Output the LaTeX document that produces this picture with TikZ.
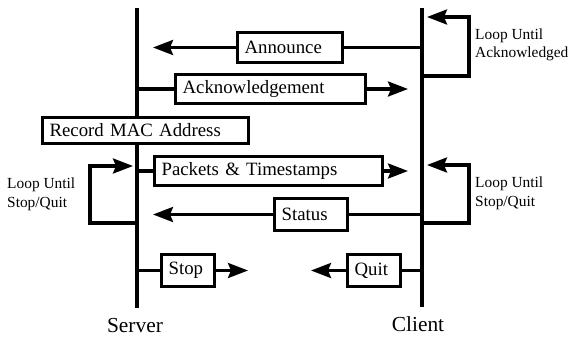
\documentclass[tikz,border=0pt]{standalone}
\usepackage{fontspec}
\setmainfont{Liberation Serif}
\usetikzlibrary{arrows.meta}
\tikzset{
  lw/.style={line width=3.2pt},
  msgbox/.style={lw, draw, fill=white, align=left, inner xsep=7pt, inner ysep=0pt,
    font=\fontsize{18.8}{20}\selectfont},
  arr/.style={lw, -{Stealth[length=20pt,width=15pt,inset=3pt]}},
  looplabel/.style={anchor=north west, inner sep=0pt, align=left,
    font=\fontsize{15.4}{18.5}\selectfont},
  endlabel/.style={anchor=base, inner sep=0pt, font=\fontsize{21.4}{24}\selectfont}
}
\begin{document}
\begin{tikzpicture}[x=1pt,y=-1pt]
\useasboundingbox (0,0) rectangle (570,338);
% lifelines
\coordinate (stop) at (137,8);
\coordinate (sbot) at (137,308);
\coordinate (ctop) at (422,8);
\coordinate (cbot) at (422,307);
\draw[lw] (stop) -- (sbot);
\draw[lw] (ctop) -- (cbot);
% end labels
\node[endlabel] (server) at (135,332) {Server};
\node[endlabel] (client) at (418,331) {Client};
% boxes
\node[msgbox, text width=90.8pt, minimum height=29.8pt] (ann) at (290,47.5) {Announce};
\node[msgbox, text width=175.8pt, minimum height=28.8pt] (ack) at (270.5,89) {Acknowledgement};
\node[msgbox, text width=191.8pt, minimum height=25.8pt] (rec) at (145.5,130.5) {Record MAC Address};
\node[msgbox, text width=213.8pt, minimum height=28.8pt] (pk) at (268.5,171) {Packets \& Timestamps};
\node[msgbox, text width=58.8pt, minimum height=31.8pt] (st) at (311,214.5) {Status};
\node[msgbox, text width=38.8pt, minimum height=31.8pt] (sp) at (188,270.5) {Stop};
\node[msgbox, text width=38.8pt, minimum height=31.8pt] (qt) at (374,270.5) {Quit};
% arrow end points
\coordinate (annT) at (153,47.5);
\coordinate (ackT) at (408,89);
\coordinate (pkT) at (408,171);
\coordinate (stT) at (153,214.5);
\coordinate (spT) at (248,270.5);
\coordinate (qtT) at (311,270.5);
% connectors
\draw[lw] (ann.east) -- (ann.east -| ctop);
\draw[arr] (ann.west) -- (annT);
\draw[lw] (ack.west -| stop) -- (ack.west);
\draw[arr] (ack.east) -- (ackT);
\draw[lw] (pk.west -| stop) -- (pk.west);
\draw[arr] (pk.east) -- (pkT);
\draw[lw] (st.east) -- (st.east -| ctop);
\draw[arr] (st.west) -- (stT);
\draw[lw] (sp.west -| stop) -- (sp.west);
\draw[arr] (sp.east) -- (spT);
\draw[lw] (qt.east) -- (qt.east -| ctop);
\draw[arr] (qt.west) -- (qtT);
% loops
\coordinate (l1a) at (422,76);
\coordinate (l1b) at (469,17);
\coordinate (l1c) at (427,17);
\draw[arr] (l1a) -| (l1b) -- (l1c);
\coordinate (l2a) at (137,223);
\coordinate (l2b) at (90,166);
\coordinate (l2c) at (133,166);
\draw[arr] (l2a) -| (l2b) -- (l2c);
\coordinate (l3a) at (422,223);
\coordinate (l3b) at (469,165);
\coordinate (l3c) at (427,165);
\draw[arr] (l3a) -| (l3b) -- (l3c);
% loop labels
\node[looplabel] (lab1) at (475,28.5) {Loop Until\\Acknowledged};
\node[looplabel] (lab2) at (475,177) {Loop Until\\Stop/Quit};
\node[looplabel] (lab3) at (7,178) {Loop Until\\Stop/Quit};
\end{tikzpicture}
\end{document}
